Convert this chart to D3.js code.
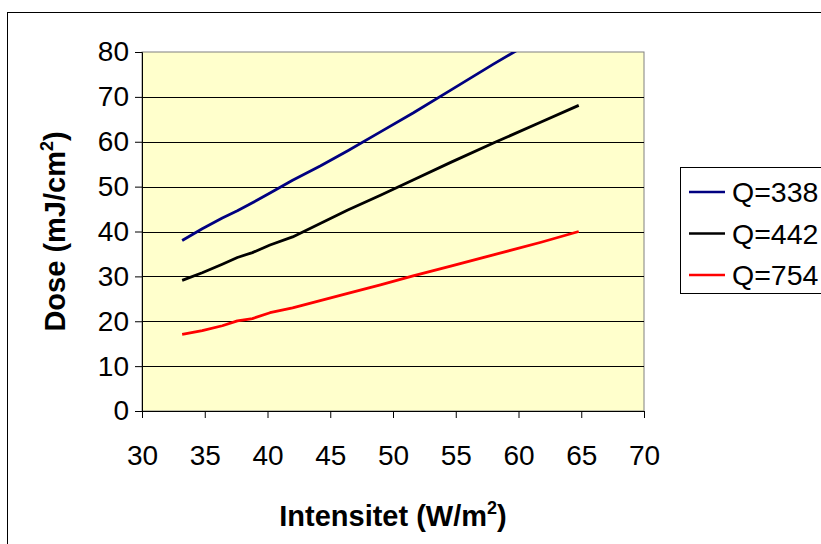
<!DOCTYPE html>
<html>
<head>
<meta charset="utf-8">
<script src="https://cdn.jsdelivr.net/npm/d3@7"></script>
<style>
  body { margin: 0; background: #fff; }
  svg { display: block; font-family: Arial, "Liberation Sans", sans-serif; }
  .tick text { font-size: 28px; fill: #000; }
  .unit { font-size: 29px; font-weight: bold; }
  .legend-texts { font-size: 28.5px; }
</style>
</head>
<body>
<div id="svg-container"></div>
<script>
////////////////////////////  Data  ////////////////////////////////
const intensity = [33.2, 34.8, 36.4, 37.6, 38.8, 40.2, 42.0, 44.2, 46.4, 49.0, 51.6, 54.6, 58.0, 61.8, 64.8];
const doseQ338 = [38.0, 40.6, 43.0, 44.6, 46.4, 48.6, 51.4, 54.6, 58.0, 62.2, 66.4, 71.5, 77.3, 83.5, 88.3];
const doseQ442 = [29.1, 30.8, 32.7, 34.2, 35.3, 37.0, 38.8, 41.8, 44.8, 48.1, 51.5, 55.4, 59.7, 64.4, 68.1];
const doseQ754 = [17.1, 17.9, 19.0, 20.1, 20.6, 21.9, 23.0, 24.6, 26.2, 28.1, 30.1, 32.3, 34.8, 37.6, 40.0];
const seriesNames = ["Q=338", "Q=442", "Q=754"];
const seriesColors = ["#000080", "#000000", "#ff0000"];
const xTicks = [30, 35, 40, 45, 50, 55, 60, 65, 70];
const yTicks = [0, 10, 20, 30, 40, 50, 60, 70, 80];

const series = [doseQ338, doseQ442, doseQ754].map((vals, i) => ({
  name: seriesNames[i],
  color: seriesColors[i],
  points: vals.map((v, j) => ({ x: intensity[j], y: v }))
}));

////////////////////////////  Init  ////////////////////////////////
const width = 821;
const height = 544;
const margin = { top: 52, right: 177, bottom: 133, left: 142 };

const svg = d3.select("#svg-container").append("svg")
  .attr("width", width)
  .attr("height", height);

// chart border (runs past the visible window)
svg.append("rect")
  .attr("x", 7.5).attr("y", 12.5)
  .attr("width", 900).attr("height", 600)
  .attr("fill", "#fff").attr("stroke", "#000");

const xScale = d3.scaleLinear().domain([30, 70]).range([margin.left, width - margin.right]);
const yScale = d3.scaleLinear().domain([0, 80]).range([height - margin.bottom, margin.top]);

// plot area
svg.append("rect")
  .attr("x", xScale(30)).attr("y", yScale(80))
  .attr("width", xScale(70) - xScale(30))
  .attr("height", yScale(0) - yScale(80))
  .attr("fill", "#ffffcc")
  .attr("stroke", "#808080");

// gridlines
svg.append("g")
  .selectAll("line")
  .data(yTicks.filter((d) => d > 0 && d < 80))
  .enter()
  .append("line")
  .attr("x1", xScale(30)).attr("x2", xScale(70))
  .attr("y1", (d) => Math.round(yScale(d)) + 0.5)
  .attr("y2", (d) => Math.round(yScale(d)) + 0.5)
  .attr("stroke", "#000");

// axes
const xAxis = d3.axisBottom(xScale).tickValues(xTicks).tickSizeOuter(0).tickSize(7).tickPadding(27);
const yAxis = d3.axisLeft(yScale).tickValues(yTicks).tickSizeOuter(0).tickSize(7).tickPadding(6);

svg.append("g")
  .attr("class", "x-axis")
  .attr("transform", `translate(0,${yScale(0)})`)
  .call(xAxis);

svg.append("g")
  .attr("class", "y-axis")
  .attr("transform", `translate(${xScale(30)},0)`)
  .call(yAxis);

svg.selectAll(".domain, .tick line").attr("stroke", "#000");
svg.selectAll(".tick text").attr("font-size", null).attr("font-family", null);

// lines (clipped to plot area)
svg.append("clipPath").attr("id", "plot-clip")
  .append("rect")
  .attr("x", xScale(30)).attr("y", yScale(80))
  .attr("width", xScale(70) - xScale(30))
  .attr("height", yScale(0) - yScale(80));

const line = d3.line().x((d) => xScale(d.x)).y((d) => yScale(d.y));

svg.append("g")
  .attr("clip-path", "url(#plot-clip)")
  .selectAll("path")
  .data(series)
  .enter()
  .append("path")
  .attr("d", (d) => line(d.points))
  .attr("fill", "none")
  .attr("stroke", (d) => d.color)
  .attr("stroke-width", 2.8)
  .attr("stroke-linejoin", "round");

// units
const xUnit = svg.append("text")
  .attr("class", "unit")
  .attr("text-anchor", "middle")
  .attr("transform", `translate(${(xScale(30) + xScale(70)) / 2}, 526)`);
xUnit.append("tspan").text("Intensitet (W/m");
xUnit.append("tspan").attr("font-size", "18px").attr("dy", -12).text("2");
xUnit.append("tspan").attr("dy", 12).text(")");

const yUnit = svg.append("text")
  .attr("class", "unit")
  .attr("text-anchor", "middle")
  .attr("transform", `translate(65, ${(yScale(0) + yScale(80)) / 2}) rotate(-90)`);
yUnit.append("tspan").text("Dose (mJ/cm");
yUnit.append("tspan").attr("font-size", "18px").attr("dy", -12).text("2");
yUnit.append("tspan").attr("dy", 12).text(")");

// legend
const legend = svg.append("g");
legend.append("rect")
  .attr("x", 680.5).attr("y", 167.5)
  .attr("width", 200).attr("height", 126)
  .attr("fill", "#fff").attr("stroke", "#000");

legend.selectAll("line")
  .data(series)
  .enter()
  .append("line")
  .attr("x1", 689).attr("x2", 725)
  .attr("y1", (d, i) => 192 + 41.5 * i)
  .attr("y2", (d, i) => 192 + 41.5 * i)
  .attr("stroke", (d) => d.color)
  .attr("stroke-width", 2.6);

legend.selectAll("text")
  .data(series)
  .enter()
  .append("text")
  .attr("class", "legend-texts")
  .attr("x", 732)
  .attr("y", (d, i) => 192 + 41.5 * i + 10)
  .text((d) => d.name);
</script>
</body>
</html>
